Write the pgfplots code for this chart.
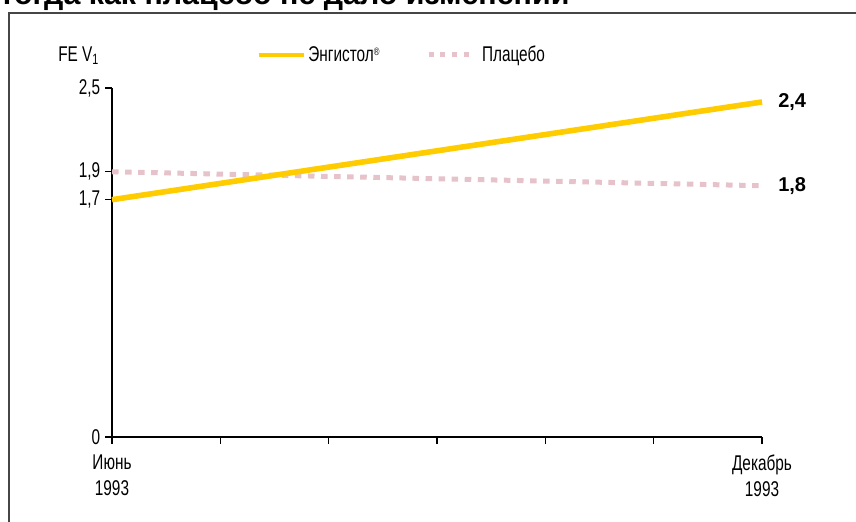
\documentclass[border=0pt]{standalone}
\usepackage{fontspec}
\setmainfont{Liberation Sans}[FakeStretch=0.72]
\newfontfamily\widesans{Liberation Sans}
\usepackage{pgfplots}
\pgfplotsset{compat=1.18}

\definecolor{engistol}{RGB}{255,204,0}
\definecolor{placebo}{RGB}{230,194,202}
\definecolor{framegray}{RGB}{70,70,70}

\newcommand{\lblfont}{\fontsize{16pt}{19.5pt}\selectfont}

\begin{document}
\begin{tikzpicture}
% picture area: 856 x 521 px at 0.75pt per px
\useasboundingbox (0pt,0pt) rectangle (642pt,-390.75pt);

% heading (its upper part runs off the top edge)
\node[anchor=base west, inner sep=0pt, font=\widesans\bfseries\fontsize{22.8pt}{26pt}\selectfont]
  at (-0.5pt,-3.7pt) {тогда как плацебо не дало изменений};

% frame
\draw[framegray, line width=1.5pt] (6.4pt,-400pt) -- (6.4pt,-9.75pt) -- (650pt,-9.75pt);

\begin{axis}[
  at={(84pt,-327.75pt)}, anchor=south west,
  scale only axis, width=487.5pt, height=261.75pt,
  xmin=0, xmax=6, ymin=0, ymax=2.5,
  axis lines*=left,
  axis line style={-, black, line width=1.1pt},
  tick align=outside,
  major tick length=5.25pt,
  tick style={black, line width=1.1pt},
  xtick={0,1,2,3,4,5,6},
  xticklabels={{Июнь\\1993},,,,,,{Декабрь\\1993}},
  xticklabel style={align=center, font=\lblfont, yshift=-4.5pt},
  ytick={0,1.7,1.9,2.5},
  yticklabels={0,{1,7},{1,9},{2,5}},
  yticklabel style={font=\lblfont},
  clip=false,
  legend columns=2,
  legend style={
    at={(0.2215,1.0946)}, anchor=west,
    draw=none, fill=none, inner sep=0pt,
    font=\lblfont,
    /tikz/every even column/.append style={column sep=33pt},
  },
  legend cell align=left,
]

% legend entries in display order
\addlegendimage{legend image code/.code={\draw[engistol, line width=3.4pt] (0pt,0pt) -- (33.75pt,0pt);}}
\addlegendentry{Энгистол\raisebox{0.55ex}{\fontsize{8pt}{8pt}\selectfont ®}}
\addlegendimage{legend image code/.code={%
  \draw[placebo, line width=3.75pt, dash pattern=on 3.75pt off 5pt] (0pt,0pt) -- (30pt,0pt);
  \path[draw=none] (0pt,0pt) -- (38pt,0pt);}}
\addlegendentry{Плацебо}

% placebo
\addplot[forget plot, placebo, line width=3.75pt, dash pattern=on 4.9pt off 4.9pt]
  coordinates {(0,1.9) (6,1.8)};
% Engystol
\addplot[forget plot, engistol, line width=4.2pt]
  coordinates {(0,1.7) (6,2.4)};

\node[anchor=west, inner sep=0pt, font=\widesans\bfseries\fontsize{15pt}{16pt}\selectfont]
  at (axis cs:6,2.4) [xshift=12pt] {2,4};
\node[anchor=west, inner sep=0pt, font=\widesans\bfseries\fontsize{15pt}{16pt}\selectfont]
  at (axis cs:6,1.8) [xshift=12pt] {1,8};

\node[anchor=base west, inner sep=0pt, font=\lblfont]
  at (rel axis cs:-0.0831,1.076) {FE V\textsubscript{1}};
\end{axis}
\end{tikzpicture}
\end{document}
